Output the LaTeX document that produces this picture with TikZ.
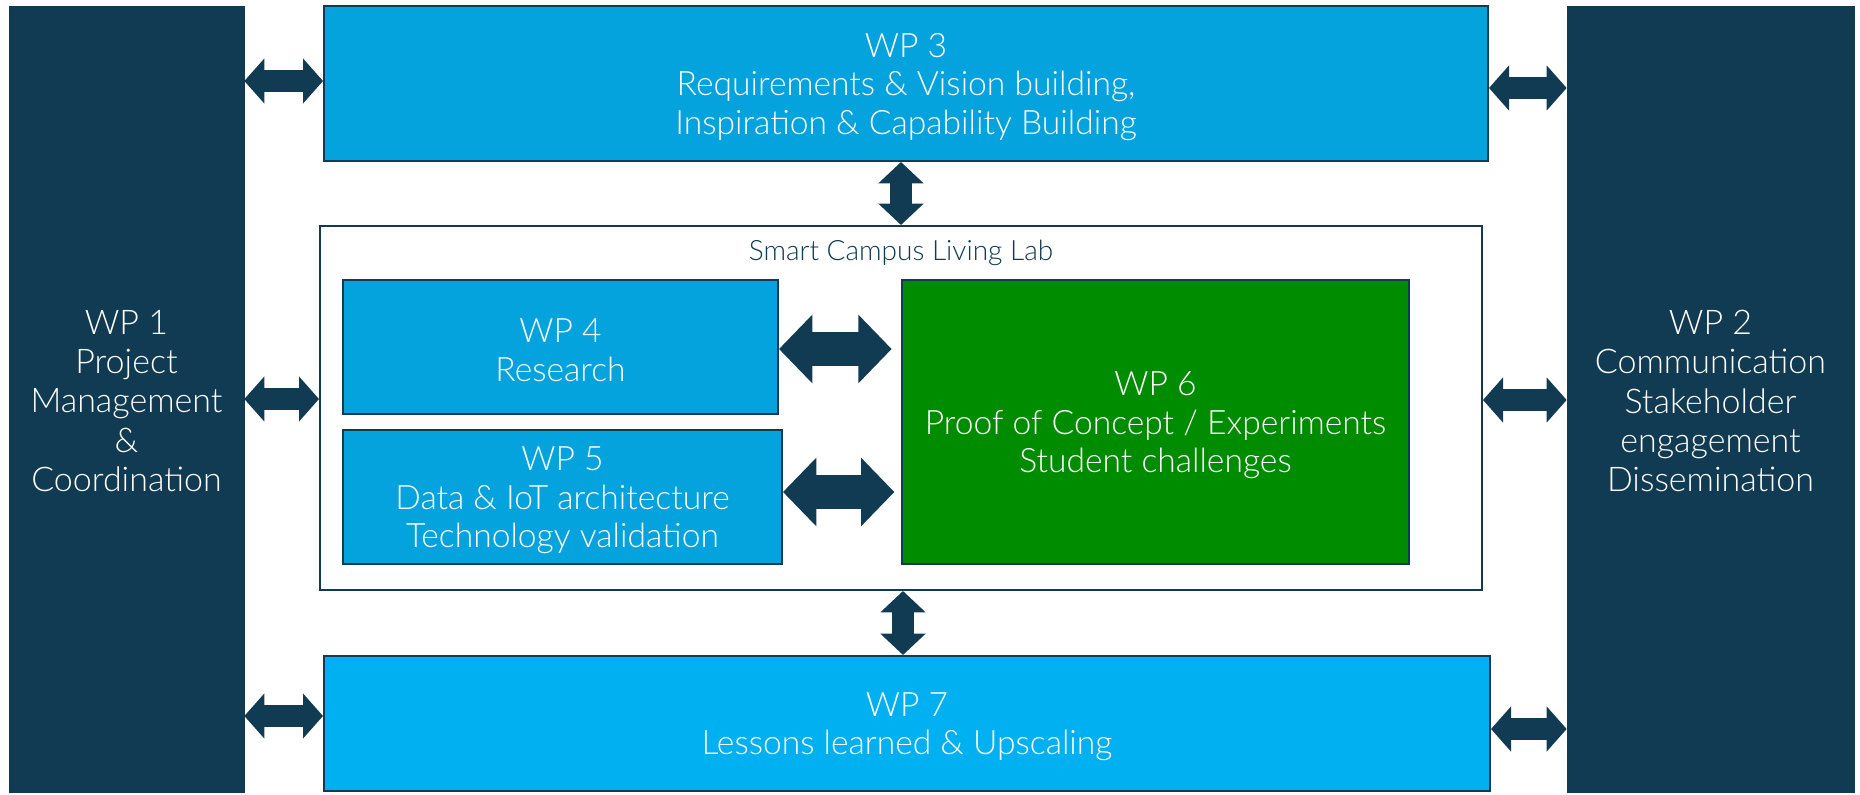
\documentclass[tikz,border=0pt]{standalone}
\usepackage{fontspec}
\setmainfont{Lato Light}
\usetikzlibrary{arrows.meta,fit}
\definecolor{navy}{RGB}{16,59,83}
\definecolor{wpblue}{RGB}{4,163,221}
\definecolor{wplight}{RGB}{0,176,240}
\definecolor{wpgreen}{RGB}{0,140,0}
\tikzset{
  side/.style={fill=navy, draw=navy, line width=0.5pt, inner sep=0pt},
  wpbox/.style={fill=wpblue, draw=navy, line width=1.5pt, inner sep=0pt},
  labbox/.style={draw=navy, line width=1.5pt, inner sep=0pt},
  wptext/.style={text=white, align=center, yshift=-2.5pt, font=\fontsize{25.2}{29}\selectfont},
  sidetext/.style={text=white, align=center, yshift=-1.5pt, font=\fontsize{25.5}{29.3}\selectfont},
  dbl/.style={draw=navy, line width=16.5pt, {Triangle[length=15pt,width=33pt]}-{Triangle[length=15pt,width=33pt]}},
  bigdbl/.style={draw=navy, line width=26pt, {Triangle[length=25pt,width=50pt]}-{Triangle[length=25pt,width=50pt]}},
  vdbl/.style={draw=navy, line width=16pt, {Triangle[length=16pt,width=33pt]}-{Triangle[length=16pt,width=33pt]}}
}
\begin{document}
\begin{tikzpicture}[x=0.75pt,y=-0.75pt]
\useasboundingbox[fill=white] (0,0) rectangle (1860,795);
% side boxes
\node[side, fit={(9,6) (244,792)}] (wp1) {};
\node[sidetext] (wp1t) at (wp1.center) {WP 1\\Project\\Management\\\&\\Coordination};
\node[side, fit={(1567,6) (1854,792)}] (wp2) {};
\node[sidetext] (wp2t) at (wp2.center) {WP 2\\Communication\\Stakeholder\\engagement\\Dissemination};
% top and bottom
\node[wpbox, fit={(324,6) (1488,161)}] (wp3) {};
\node[wptext] (wp3t) at (wp3.center) {WP 3\\Requirements \& Vision building,\\Inspiration \& Capability Building};
\node[wpbox, fill=wplight, fit={(324,656) (1490,791)}] (wp7) {};
\node[wptext] (wp7t) at (wp7.center) {WP 7\\Lessons learned \& Upscaling};
% living lab
\node[labbox, fit={(320,226) (1482,590)}] (lab) {};
\node[text=navy, font=\fontsize{21}{25}\selectfont] (labt) at (901,253) {Smart Campus Living Lab};
\node[wpbox, fit={(343,280) (778,414)}] (wp4) {};
\node[wptext] (wp4t) at (wp4.center) {WP 4\\Research};
\node[wpbox, fit={(343,430) (782,564)}] (wp5) {};
\node[wptext] (wp5t) at (wp5.center) {WP 5\\Data \& IoT architecture\\Technology validation};
\node[wpbox, fill=wpgreen, fit={(902,280) (1409,564)}] (wp6) {};
\node[wptext] (wp6t) at (wp6.center) {WP 6\\Proof of Concept / Experiments\\Student challenges};
% arrows
\draw[dbl] (wp1.east |- 0,81) -- (wp3.west |- 0,81);
\draw[dbl] (wp3.east |- 0,88) -- (wp2.west |- 0,88);
\draw[dbl] (wp1.east |- 0,399) -- (lab.west |- 0,399);
\draw[dbl] (lab.east |- 0,400) -- (wp2.west |- 0,400);
\draw[dbl] (wp1.east |- 0,716) -- (wp7.west |- 0,716);
\draw[dbl] (wp7.east |- 0,729) -- (wp2.west |- 0,729);
\draw[vdbl] (wp3.south -| 901,0) -- (lab.north -| 901,0);
\draw[vdbl] (lab.south -| 903,0) -- (wp7.north -| 903,0);
\draw[bigdbl, shorten >=7pt] (wp4.east |- 0,349) -- (wp6.west |- 0,349);
\draw[bigdbl, shorten >=5pt] (wp5.east |- 0,492) -- (wp6.west |- 0,492);
\end{tikzpicture}
\end{document}
